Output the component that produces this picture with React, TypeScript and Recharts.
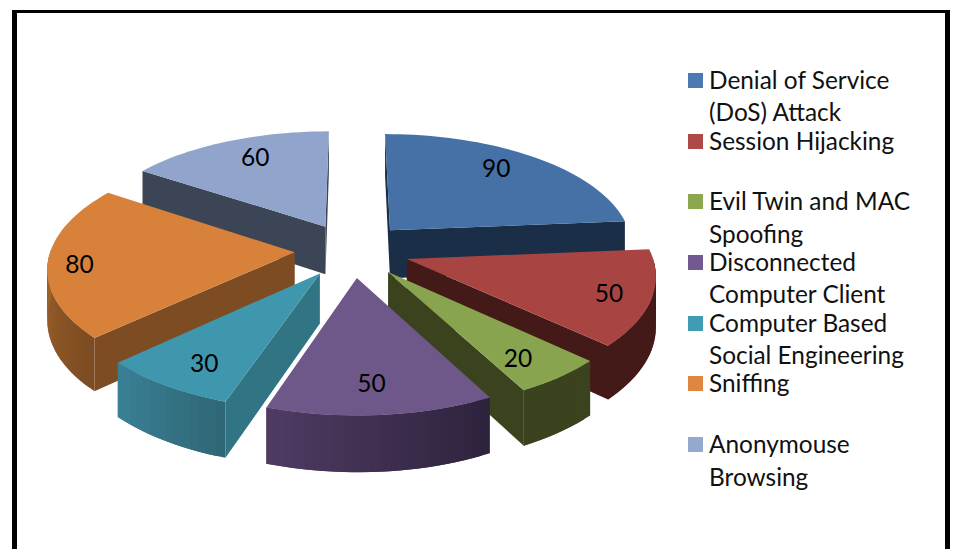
import { PieChart, Pie, Cell, Legend } from 'recharts';

const CATEGORIES = [
  'Denial of Service (DoS) Attack',
  'Session Hijacking',
  'Evil Twin and MAC Spoofing',
  'Disconnected Computer Client',
  'Computer Based Social Engineering',
  'Sniffing',
  'Anonymouse Browsing',
];
const VALUES = [90, 50, 20, 50, 30, 80, 60];

const TOP_COLORS = ['#4571a6', '#a84442', '#88a44e', '#6e5789', '#3f97ae', '#d8813b', '#91a5cc'];
const LEGEND_COLORS = ['#4a7ab0', '#ad4a47', '#8ba84f', '#72598f', '#409bb3', '#df8740', '#95a9d0'];
const SIDE_COLORS = ['#1b2e47', '#441a18', '#3a431d', '#2e233d', '#317585', '#7d4c22', '#3b4556'];
const WALL_RIGHT = ['#1b2e47', '#441a18', '#3a431d', '#2e233d', '#2f6776', '#7d4c22', '#3b4556'];
const WALL_LEFT = ['#1b2e47', '#441a18', '#3a431d', '#4f3c64', '#3b8297', '#bb7431', '#3b4556'];
// data labels sit off the radial line in the original
const LABEL_NUDGE = [[-5, -5], [18, 3], [2, 7], [-3, 3], [-1, 6], [-28, 4], [6, -3]];

// painter's order, back slices first
const LAYERS = [[6], [0, 5], [1, 2, 3, 4]];

const rows = CATEGORIES.map((name, i) => ({ name, value: VALUES[i] }));

const EXPLODE = 0.235;
const TILT = 117 / 246;
const PERSPECTIVE = 0.1265;
const DEPTH = 49;
const RAD = Math.PI / 180;

type P = [number, number];

function project(cx: number, cy: number, r: number, gx: number, gy: number, down = 0): P {
  const s = 1 + PERSPECTIVE * gy;
  return [cx + r * gx * s, cy + r * TILT * gy * s + DEPTH * s * down];
}

// recharts angle -> clockwise from twelve o'clock
const clock = (deg: number) => 90 - deg;

function ground(mid: number, a: number, k = 1): P {
  const m = clock(mid) * RAD;
  const t = a * RAD;
  return [EXPLODE * Math.sin(m) + k * Math.sin(t), -EXPLODE * Math.cos(m) - k * Math.cos(t)];
}

const toPath = (pts: P[]) => 'M' + pts.map((p) => `${p[0].toFixed(2)},${p[1].toFixed(2)}`).join('L') + 'Z';

function mix(a: string, b: string, t: number) {
  const c = (h: string, i: number) => parseInt(h.slice(i, i + 2), 16);
  const v = [1, 3, 5].map((i) => Math.round(c(a, i) + (c(b, i) - c(a, i)) * t));
  return `rgb(${v[0]},${v[1]},${v[2]})`;
}

function makeSlice(layer: number[]) {
  return function Slice(props: any) {
    const { cx, cy, outerRadius: r, startAngle, endAngle, midAngle, name } = props;
    const i = CATEGORIES.indexOf(name ?? props.payload?.name);
    if (!layer.includes(i)) return <g />;
    const a0 = clock(startAngle);
    const a1 = clock(endAngle);
    const steps = Math.max(4, Math.round((a1 - a0) / 2));
    const angles = Array.from({ length: steps + 1 }, (_, k) => a0 + ((a1 - a0) * k) / steps);
    const pt = (a: number, k: number, down: number) => {
      const g = ground(midAngle, a, k);
      return project(cx, cy, r, g[0], g[1], down);
    };
    const top = [pt(a0, 0, 0), ...angles.map((a) => pt(a, 1, 0))];
    // each wall piece overlaps the next one so no seams show between them
    const quad = (a: number, b: number) => [pt(a, 1, 0), pt(b, 1, 0), pt(b, 1, 1), pt(a, 1, 1)];
    const radial = (a: number) => [pt(a, 0, 0), pt(a, 1, 0), pt(a, 1, 1), pt(a, 0, 1)];
    const side = SIDE_COLORS[i];
    return (
      <g>
        {-Math.sin(a0 * RAD) > -0.001 && <path d={toPath(radial(a0))} fill={side} />}
        {Math.sin(a1 * RAD) > -0.001 && <path d={toPath(radial(a1))} fill={side} />}
        {angles.slice(0, -1).map((a, k) => {
          if (Math.cos(((a + angles[k + 1]) / 2) * RAD) > 0) return null;
          const col = mix(WALL_RIGHT[i], WALL_LEFT[i], k / steps);
          return <path key={k} d={toPath(quad(a, angles[Math.min(k + 2, steps)]))} fill={col} />;
        })}
        <path d={toPath(top)} fill={TOP_COLORS[i]} />
      </g>
    );
  };
}

function sliceLabel(props: any) {
  const { cx, cy, outerRadius: r, midAngle, value, name } = props;
  const g = ground(midAngle, clock(midAngle), 0.76);
  const p = project(cx, cy, r, g[0], g[1]);
  const nudge = LABEL_NUDGE[CATEGORIES.indexOf(name ?? props.payload?.name)];
  return (
    <text x={p[0] + nudge[0]} y={p[1] + nudge[1]} textAnchor="middle" dominantBaseline="central" fontFamily="Lato" fontSize={24.5} fill="#000">
      {value}
    </text>
  );
}

function LegendList({ payload }: any) {
  const items = (payload ?? []).filter((e: any) => e.type !== 'none');
  const ordered = CATEGORIES.filter((c) => items.some((e: any) => e.value === c));
  return (
    <div style={{ fontFamily: 'Lato', fontSize: 24.4, lineHeight: '32.4px', color: '#111' }}>
      {ordered.map((label) => (
        <div key={label} style={{ position: 'relative', height: 60.7, paddingLeft: 21, width: 216 }}>
          <span
            style={{
              position: 'absolute',
              left: 0,
              top: 9,
              width: 15,
              height: 15,
              background: LEGEND_COLORS[CATEGORIES.indexOf(label)],
            }}
          />
          {label}
        </div>
      ))}
    </div>
  );
}

export default function App() {
  return (
    <div style={{ position: 'absolute', left: 0, top: 0, width: 956, height: 549, overflow: 'hidden', background: '#fff' }}>
      <div
        style={{
          position: 'absolute',
          left: 12,
          top: 10,
          width: 928,
          height: 539,
          borderLeft: '5px solid #000',
          borderRight: '5px solid #000',
          borderTop: '3px solid #000',
        }}
      />
      <div style={{ position: 'absolute', left: 0, top: 0 }}>
        <PieChart width={956} height={549} margin={{ top: 0, right: 0, bottom: 0, left: 0 }}>
          {LAYERS.map((layer, n) => (
            <Pie
              key={n}
              data={rows}
              dataKey="value"
              nameKey="name"
              cx={352}
              cy={250}
              outerRadius={244}
              startAngle={90}
              endAngle={-270}
              stroke="none"
              isAnimationActive={false}
              legendType={n === LAYERS.length - 1 ? 'square' : 'none'}
              shape={makeSlice(layer)}
              label={n === LAYERS.length - 1 ? sliceLabel : false}
              labelLine={false}
            >
              {rows.map((_, i) => (
                <Cell key={i} fill={TOP_COLORS[i]} />
              ))}
            </Pie>
          ))}
          <Legend
            layout="vertical"
            align="right"
            verticalAlign="top"
            content={LegendList}
            wrapperStyle={{ left: 688, top: 64, width: 240, right: 'auto' }}
          />
        </PieChart>
      </div>
    </div>
  );
}
